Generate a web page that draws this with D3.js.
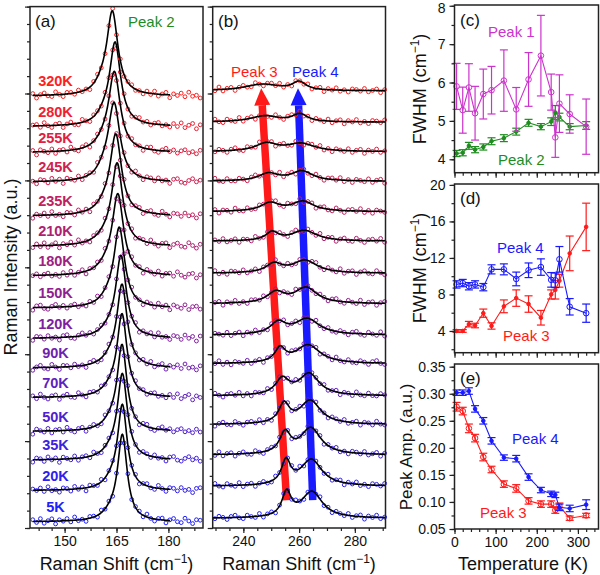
<!DOCTYPE html>
<html><head><meta charset="utf-8">
<script src="https://cdnjs.cloudflare.com/ajax/libs/d3/7.8.5/d3.min.js"></script>
<style>
body{margin:0;background:#fff}
svg text{font-family:"Liberation Sans",Arial,Helvetica,sans-serif}
</style></head>
<body><svg id="c" width="600" height="575"></svg>
<script>
// ---------------- DATA ----------------
const temps = [5,20,35,50,70,90,120,150,180,210,235,245,255,280,320];
const tempLabels = ["5K","20K","35K","50K","70K","90K","120K","150K","180K","210K","235K","245K","255K","280K","320K"];
// vertical offsets of each spectrum (a.u.)
const offsetA = [0.07,0.43,0.78,1.11,1.50,1.84,2.18,2.53,2.90,3.24,3.59,3.98,4.32,4.62,4.97];
const offsetB = [0.11,0.48,0.84,1.19,1.52,1.89,2.22,2.58,2.93,3.30,3.64,3.99,4.33,4.67,5.03];
// panel (a) fit parameters
const peak2Center = [166.7,166.7,166.7,166.6,166.6,166.6,166.3,165.8,165.4,165.2,164.8,164.3,164.4,164.6,163.8];
const peak2Amp    = [0.97,0.96,0.96,0.97,0.93,0.93,0.92,0.90,0.91,0.92,0.91,0.89,0.90,0.94,0.95];
const peak1Center = [163.6,163.6,163.6,163.5,163.5,163.4,163.1,162.6,162.2,162.0,161.6,161.2,161.3,161.5,160.8];
const peak1Amp    = [0.08,0.08,0.08,0.08,0.08,0.08,0.08,0.08,0.08,0.08,0.08,0.08,0.08,0.08,0.08];
// panel (b) peak centres
const peak3Center = [255.5,255.3,255.0,254.6,254.0,253.2,252.5,251.7,251.0,250.3,249.6,249.0,248.3,247.6,246.9];
const peak4Center = [264.6,264.4,264.2,264.0,263.6,263.2,262.9,262.5,262.1,261.8,261.4,261.0,260.7,260.3,260.0];
// panel (c)
const peak1FWHM = [5.90,5.28,5.87,5.20,5.70,5.80,6.05,5.30,6.08,6.70,5.75,4.57,5.45,5.18,4.85];
const peak1Err  = [0.60,0.60,0.62,0.70,0.65,0.62,0.80,0.57,0.70,1.05,0.47,0.52,0.75,0.50,0.72];
const peak2FWHM = [4.15,4.17,4.35,4.25,4.32,4.47,4.55,4.72,4.95,4.85,4.98,5.22,5.10,4.85,4.88];
const peak2Err  = [0.08,0.08,0.09,0.08,0.08,0.09,0.09,0.09,0.09,0.08,0.10,0.18,0.10,0.08,0.10];
// panel (d)
const peak4FWHM = [9.10,9.25,8.90,9.10,8.80,10.75,10.75,9.70,10.65,11.00,9.60,9.55,11.85,6.65,5.95];
const peak4FErr = [0.40,0.40,0.40,0.40,0.40,0.50,0.60,0.75,0.80,0.90,0.80,0.80,1.40,0.90,1.00];
const peak3FWHM = [4.00,4.00,4.75,4.60,5.95,4.55,6.70,7.60,6.95,5.45,8.00,8.50,9.50,12.50,15.40];
const peak3FErr = [0.15,0.15,0.30,0.25,0.45,0.35,0.70,0.90,0.90,0.80,0.50,1.00,0.70,1.90,2.60];
// panel (e)
const peak4Amp = [0.302,0.302,0.305,0.272,0.250,0.213,0.182,0.180,0.146,0.122,0.115,0.113,0.090,0.088,0.095];
const peak4AErr= [0.005,0.005,0.006,0.006,0.006,0.006,0.005,0.006,0.006,0.005,0.005,0.005,0.006,0.006,0.009];
const peak3Amp = [0.276,0.268,0.236,0.218,0.183,0.160,0.133,0.125,0.102,0.096,0.096,0.085,0.092,0.070,0.075];
const peak3AErr= [0.008,0.007,0.008,0.007,0.007,0.006,0.006,0.007,0.006,0.006,0.006,0.006,0.006,0.004,0.004];
// measured residuals of the spectra about the fits (a.u.)
const residA = [0.020,-0.012,0.031,-0.022,0.006,0.027,-0.033,0.013,-0.004,0.024,-0.016,0.037,-0.009,0.003,-0.028,0.019,0.010,-0.021,0.030,-0.006,0.016,-0.036,0.022,0.004,-0.013,0.028,-0.025,0.009,0.015,-0.018,0.034,-0.003,-0.024,0.012,0.021,-0.031,0.007,0.025,-0.010,-0.019,0.033,0.002,-0.027,0.018,0.013,-0.015,0.024,-0.007,0.006,-0.030,0.019,0.027,-0.012,-0.022,0.010,0.031,-0.004,0.016,-0.018,0.009,0.022,-0.013,0.003,-0.021];
const residB = [-0.010,0.018,0.004,-0.021,0.013,0.026,-0.006,-0.017,0.021,0.002,-0.012,0.029,-0.019,0.008,0.015,-0.025,0.006,0.020,-0.009,-0.014,0.024,0.001,-0.022,0.011,0.017,-0.005,0.027,-0.016,0.009,-0.023,0.014,0.003,-0.011,0.022,-0.018,0.007,0.019,-0.026,0.012,-0.003,0.025,-0.013,0.005,-0.020,0.016,0.010,-0.008,0.023,-0.015,0.001,0.018,-0.024,0.011,0.006,-0.017,0.028,-0.004,-0.012,0.020,-0.007];
// axis ticks
const ticksA = [150,165,180];
const ticksB = [240,260,280];
const ticksT = [0,100,200,300];
const ticksC = [4,5,6,7,8];
const ticksD = [4,8,12,16,20];
const ticksE = [0.05,0.10,0.15,0.20,0.25,0.30,0.35];

// ---------------- DRAW ----------------
const svg = d3.select("#c");
const red = "#ff1a1a", blue = "#1a1aff", green = "#1e8c1e", magenta = "#cc33cc";
const tcol = i => d3.interpolateRgb("#2020ff", "#ff2020")(i / (temps.length - 1));
const lor = (x, c, w) => 1 / (1 + Math.pow((x - c) / (w / 2), 2));

const xA = d3.scaleLinear().domain([140, 190]).range([30, 203]);
const xB = d3.scaleLinear().domain([229, 291]).range([212.7, 385.5]);
const yI = d3.scaleLinear().domain([0, 6]).range([528, 6.6]);

function frame(x0, x1, y0, y1) {
  svg.append("rect").attr("x", x0).attr("y", y0).attr("width", x1 - x0).attr("height", y1 - y0)
    .attr("fill", "none").attr("stroke", "#222").attr("stroke-width", 1.5);
}
function styleAxis(g, labelled) {
  g.select(".domain").remove();
  g.selectAll("line").attr("stroke", "#222").attr("stroke-width", 1.2);
  if (!labelled) g.selectAll("text").remove();
  else g.selectAll("text").attr("font-size", 14).attr("fill", "#111")
    .style("font-family", '"Liberation Sans",Arial,sans-serif');
}
function axisB(scale, y, majors, minorStep, fmt, labelled) {
  const d = scale.domain();
  const minors = d3.range(Math.ceil(d[0] / minorStep - 1e-9) * minorStep, d[1] + 1e-9, minorStep);
  const g1 = svg.append("g").attr("transform", `translate(0,${y})`)
    .call(d3.axisBottom(scale).tickValues(minors).tickSize(3).tickFormat(""));
  styleAxis(g1, false);
  const g2 = svg.append("g").attr("transform", `translate(0,${y})`)
    .call(d3.axisBottom(scale).tickValues(majors).tickSize(5).tickPadding(3).tickFormat(fmt || (() => "")));
  styleAxis(g2, labelled);
}
function axisL(scale, x, majors, minorStep, fmt, labelled) {
  const d = scale.domain();
  const minors = d3.range(Math.ceil(d[0] / minorStep - 1e-9) * minorStep, d[1] + 1e-9, minorStep);
  const g1 = svg.append("g").attr("transform", `translate(${x},0)`)
    .call(d3.axisLeft(scale).tickValues(minors).tickSize(3).tickFormat(""));
  styleAxis(g1, false);
  const g2 = svg.append("g").attr("transform", `translate(${x},0)`)
    .call(d3.axisLeft(scale).tickValues(majors).tickSize(5).tickPadding(4).tickFormat(fmt || (() => "")));
  styleAxis(g2, labelled);
  return g2;
}
function text(x, y, s, opts = {}) {
  const t = svg.append("text").attr("x", x).attr("y", y).attr("font-size", opts.size || 15)
    .attr("fill", opts.fill || "#111").attr("text-anchor", opts.anchor || "start")
    .attr("font-weight", opts.weight || "normal");
  if (opts.rotate) t.attr("transform", `rotate(-90,${x},${y})`);
  return t.text(s);
}
function cmLabel(x, y, base, rotate) {
  const t = svg.append("text").attr("x", x).attr("y", y).attr("font-size", 18).attr("fill", "#111")
    .attr("text-anchor", "middle");
  if (rotate) t.attr("transform", `rotate(-90,${x},${y})`);
  t.append("tspan").text(base + " (cm");
  t.append("tspan").attr("dy", -7).attr("font-size", 12).text("\u22121");
  t.append("tspan").attr("dy", 7).text(")");
}

// ---------- panel (a) ----------
const line = d3.line();
const xsDataA = d3.range(140.8, 189.6, 1.1);
temps.forEach((t, i) => {
  const model = x => offsetA[i] + peak2Amp[i] * lor(x, peak2Center[i], peak2FWHM[i] * 0.8)
    + peak1Amp[i] * lor(x, peak1Center[i], peak1FWHM[i]);
  const c = tcol(i);
  svg.append("g").selectAll("circle").data(xsDataA).join("circle")
    .attr("cx", x => xA(x))
    .attr("cy", (x, k) => yI(model(x) + residA[(k + i * 7) % residA.length]))
    .attr("r", 1.9).attr("fill", "none").attr("stroke", c).attr("stroke-width", 1);
  const fx = d3.range(140.8, 180.6, 0.1);
  svg.append("path").attr("d", line(fx.map(x => [xA(x), yI(model(x))])))
    .attr("fill", "none").attr("stroke", "#000").attr("stroke-width", 1.6);
  text(55.5, yI(offsetA[i]) - 10, tempLabels[i], { size: 14.5, weight: "bold", fill: c, anchor: "middle" });
});
frame(30, 203, 6.6, 528);
axisL(yI, 30, d3.range(0, 7, 1), 0.2, null, false);
axisB(xA, 528, ticksA, 3.75, d3.format("d"), true);
text(35, 27, "(a)", { size: 17 });
text(128, 27, "Peak 2", { size: 15, fill: green });
cmLabel(116.5, 570, "Raman Shift", false);
text(17, 267, "Raman Intensity (a.u.)", { size: 18, anchor: "middle", rotate: true });

// ---------- panel (b) ----------
const arrows = [
  { color: red,  x0: 255.5, y0: 0.32, x1: 246.4, y1: 5.06 },
  { color: blue, x0: 264.9, y0: 0.32, x1: 259.6, y1: 5.06 }
];
arrows.forEach(a => {
  const X0 = xB(a.x0), Y0 = yI(a.y0), X1 = xB(a.x1), Y1 = yI(a.y1);
  const dx = X1 - X0, dy = Y1 - Y0, L = Math.hypot(dx, dy), ux = dx / L, uy = dy / L;
  const hl = 17, hw = 8;
  const bx = X1 - ux * hl, by = Y1 - uy * hl;
  svg.append("line").attr("x1", X0).attr("y1", Y0).attr("x2", bx).attr("y2", by)
    .attr("stroke", a.color).attr("stroke-width", 7.5);
  svg.append("path").attr("d", `M${X1},${Y1}L${bx - uy * hw},${by + ux * hw}L${bx + uy * hw},${by - ux * hw}Z`)
    .attr("fill", a.color);
});
const xsDataB = d3.range(229.8, 291.2, 1.45);
temps.forEach((t, i) => {
  const model = x => offsetB[i] + peak3Amp[i] * lor(x, peak3Center[i], peak3FWHM[i])
    + peak4Amp[i] * lor(x, peak4Center[i], peak4FWHM[i]);
  const c = tcol(i);
  svg.append("g").selectAll("circle").data(xsDataB).join("circle")
    .attr("cx", x => xB(x))
    .attr("cy", (x, k) => yI(model(x) + residB[(k + i * 5) % residB.length]))
    .attr("r", 1.9).attr("fill", "none").attr("stroke", c).attr("stroke-width", 1);
  const fx = d3.range(229, 291.05, 0.1);
  svg.append("path").attr("d", line(fx.map(x => [xB(x), yI(model(x))])))
    .attr("fill", "none").attr("stroke", "#000").attr("stroke-width", 1.6);
});
frame(212.7, 385.5, 6.6, 528);
axisL(yI, 212.7, d3.range(0, 7, 1), 0.2, null, false);
axisB(xB, 528, ticksB, 5, d3.format("d"), true);
text(218, 27, "(b)", { size: 17 });
text(231, 77, "Peak 3", { size: 15, fill: red });
text(292, 77, "Peak 4", { size: 15, fill: blue });
cmLabel(299, 570, "Raman Shift", false);

// ---------- panels (c),(d),(e) ----------
const xT = d3.scaleLinear().domain([0, 350]).range([454.5, 598.5]);
const yC = d3.scaleLinear().domain([3.65, 8.02]).range([172.7, 5]);
const yD = d3.scaleLinear().domain([1.62, 20.1]).range([352.7, 184]);
const yE = d3.scaleLinear().domain([0.05, 0.355]).range([529, 364]);

function series(ys, vals, errs, color, marker) {
  const g = svg.append("g");
  g.append("path").attr("d", line(temps.map((t, i) => [xT(t), ys(vals[i])])))
    .attr("fill", "none").attr("stroke", color).attr("stroke-width", 1.1);
  temps.forEach((t, i) => {
    const x = xT(t), yt = ys(vals[i] + errs[i]), yb = ys(vals[i] - errs[i]);
    g.append("line").attr("x1", x).attr("x2", x).attr("y1", yt).attr("y2", yb).attr("stroke", color).attr("stroke-width", 1.2);
    [yt, yb].forEach(yy => g.append("line").attr("x1", x - 4).attr("x2", x + 4).attr("y1", yy).attr("y2", yy)
      .attr("stroke", color).attr("stroke-width", 1.2));
  });
  g.selectAll("circle").data(vals).join("circle")
    .attr("cx", (v, i) => xT(temps[i])).attr("cy", v => ys(v))
    .attr("r", marker === "open" ? 2.8 : 1.8)
    .attr("fill", marker === "open" ? "none" : color).attr("stroke", color).attr("stroke-width", 1);
}
// (c)
series(yC, peak2FWHM, peak2Err, green, "filled");
series(yC, peak1FWHM, peak1Err, magenta, "open");
frame(454.5, 598.5, 5, 172.7);
const gc = axisL(yC, 454.5, ticksC, 0.5, d3.format("d"), true);
gc.selectAll("text").filter(d => d === 8).attr("dy", "0.5em");
axisB(xT, 172.7, ticksT, 20, null, false);
text(460, 26, "(c)", { size: 17 });
text(488, 37, "Peak 1", { size: 15, fill: magenta });
text(498, 165, "Peak 2", { size: 15, fill: green });
cmLabel(426, 89, "FWHM", true);
// (d)
series(yD, peak3FWHM, peak3FErr, red, "filled");
series(yD, peak4FWHM, peak4FErr, blue, "open");
frame(454.5, 598.5, 184, 352.7);
axisL(yD, 454.5, ticksD, 2, d3.format("d"), true);
axisB(xT, 352.7, ticksT, 20, null, false);
text(460, 204, "(d)", { size: 17 });
text(497, 253, "Peak 4", { size: 15, fill: blue });
text(503, 341, "Peak 3", { size: 15, fill: red });
cmLabel(426, 268, "FWHM", true);
// (e)
series(yE, peak3Amp, peak3AErr, red, "open");
series(yE, peak4Amp, peak4AErr, blue, "filled");
frame(454.5, 598.5, 364, 529);
axisL(yE, 454.5, ticksE, 0.025, d3.format(".2f"), true);
axisB(xT, 529, ticksT, 20, d3.format("d"), true);
text(460, 384, "(e)", { size: 17 });
text(512, 444, "Peak 4", { size: 15, fill: blue });
text(480, 518, "Peak 3", { size: 15, fill: red });
text(412, 447, "Peak Amp. (a.u.)", { size: 17, anchor: "middle", rotate: true });
text(523, 570, "Temperature (K)", { size: 18, anchor: "middle" });
</script></body></html>
